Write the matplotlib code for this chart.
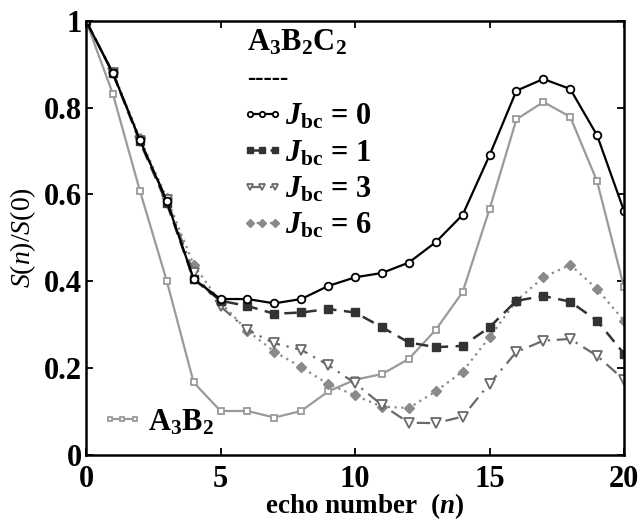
import numpy as np
import matplotlib.pyplot as plt
from matplotlib.lines import Line2D

plt.rcParams['font.family'] = ['Liberation Serif', 'DejaVu Serif']
plt.rcParams['font.weight'] = 'bold'
plt.rcParams['mathtext.fontset'] = 'custom'
plt.rcParams['mathtext.rm'] = 'Liberation Serif:bold'
plt.rcParams['mathtext.bf'] = 'Liberation Serif:bold'
plt.rcParams['mathtext.it'] = 'Liberation Serif:italic:bold'
plt.rcParams['mathtext.sf'] = 'Liberation Serif:italic:normal'

# echo number
n = np.arange(21)

# S(n)/S(0) values
j0 = [1.0, 0.879, 0.726, 0.585, 0.405, 0.359, 0.359, 0.349, 0.359, 0.389, 0.409,
      0.419, 0.443, 0.490, 0.553, 0.690, 0.839, 0.866, 0.843, 0.736, 0.562]
j1 = [1.0, 0.879, 0.722, 0.580, 0.405, 0.355, 0.343, 0.325, 0.328, 0.336, 0.328,
      0.294, 0.259, 0.248, 0.251, 0.294, 0.355, 0.366, 0.353, 0.309, 0.233]
j3 = [1.0, 0.880, 0.724, 0.588, 0.420, 0.342, 0.288, 0.257, 0.242, 0.207, 0.165,
      0.115, 0.074, 0.073, 0.088, 0.164, 0.237, 0.263, 0.267, 0.228, 0.173]
j6 = [1.0, 0.882, 0.730, 0.592, 0.438, 0.351, 0.286, 0.238, 0.202, 0.163, 0.137,
      0.111, 0.108, 0.146, 0.192, 0.271, 0.355, 0.409, 0.438, 0.382, 0.309]
a3b2 = [1.0, 0.831, 0.609, 0.401, 0.167, 0.101, 0.101, 0.086, 0.101, 0.146, 0.173,
        0.186, 0.221, 0.288, 0.375, 0.566, 0.773, 0.813, 0.779, 0.630, 0.386]

fig = plt.figure(figsize=(6.42, 5.21), dpi=100)
ax = fig.add_axes([0.134, 0.127, 0.838, 0.833])

c6, c3, c1, c0, ca = '#8a8a8a', '#6a6a6a', '#333333', '#000000', '#9a9a9a'

ax.plot(n, a3b2, color=ca, lw=1.6, marker='s', ms=5, mfc='white', mec=ca, mew=1.3)
l6, = ax.plot(n, j6, color=c6, lw=1.6, ls=(0, (1, 2)), marker='D', ms=5.5, mfc=c6, mec=c6)
l3, = ax.plot(n, j3, color=c3, lw=1.6, ls=(0, (6, 3, 1, 3)), marker='v', ms=6.5,
              mfc='white', mec=c3, mew=1.3)
l1, = ax.plot(n, j1, color=c1, lw=1.8, ls=(0, (5, 3)), marker='s', ms=5.5, mfc=c1, mec=c1)
l0, = ax.plot(n, j0, color=c0, lw=1.6, marker='o', ms=5.5, mfc='white', mec=c0, mew=1.3)

ax.set_xlim(0, 20)
ax.set_ylim(0, 1)
ax.set_xticks([0, 5, 10, 15, 20])
ax.set_yticks([0, 0.2, 0.4, 0.6, 0.8, 1])
ax.set_yticklabels(['0', '0.2', '0.4', '0.6', '0.8', '1'])
ax.tick_params(direction='in', length=5, width=1.3, top=True, right=True, labelsize=22)
ax.tick_params(axis='x', pad=7)
ax.tick_params(axis='y', pad=3)
for s in ax.spines.values():
    s.set_linewidth(1.8)

ax.set_xlabel(r'echo number  ($\mathit{n}$)', fontsize=19.5, fontweight='bold')
ax.xaxis.set_label_coords(0.517, -0.085, transform=ax.transAxes)
ax.xaxis.label.set_va('top')
ax.set_ylabel(r'$\mathsf{S}$($\mathsf{n}$)/$\mathsf{S}$(0)', fontsize=20,
              fontweight='normal', labelpad=4)

# legend for A3B2C2
ax.text(0.299, 0.949, r'A$_3$B$_2$C$_2$', transform=ax.transAxes, fontsize=22,
        fontweight='bold', va='center', ha='left')
ax.text(0.299, 0.866, '-----', transform=ax.transAxes, fontsize=18,
        fontweight='bold', va='center', ha='left')
labels = [r'$\mathit{J}_{\mathrm{bc}}$ = %d' % v for v in (0, 1, 3, 6)]
leg = ax.legend([l0, l1, l3, l6], labels, loc='upper left', bbox_to_anchor=(0.288, 0.812),
                frameon=False, fontsize=22, handlelength=1.4, handletextpad=0.05,
                labelspacing=0.22, borderpad=0, borderaxespad=0, numpoints=3,
                markerscale=0.7)
ax.add_artist(leg)

ha = Line2D([], [], color=ca, lw=1.6, marker='s', ms=5, mfc='white', mec=ca, mew=1.3)
ax.legend([ha], [r'A$_3$B$_2$'], loc='center left', bbox_to_anchor=(0.028, 0.075),
          frameon=False, fontsize=22, handlelength=1.4, handletextpad=0.12,
          borderpad=0, borderaxespad=0, numpoints=3, markerscale=0.7)

fig.savefig('out.png', dpi=100)
